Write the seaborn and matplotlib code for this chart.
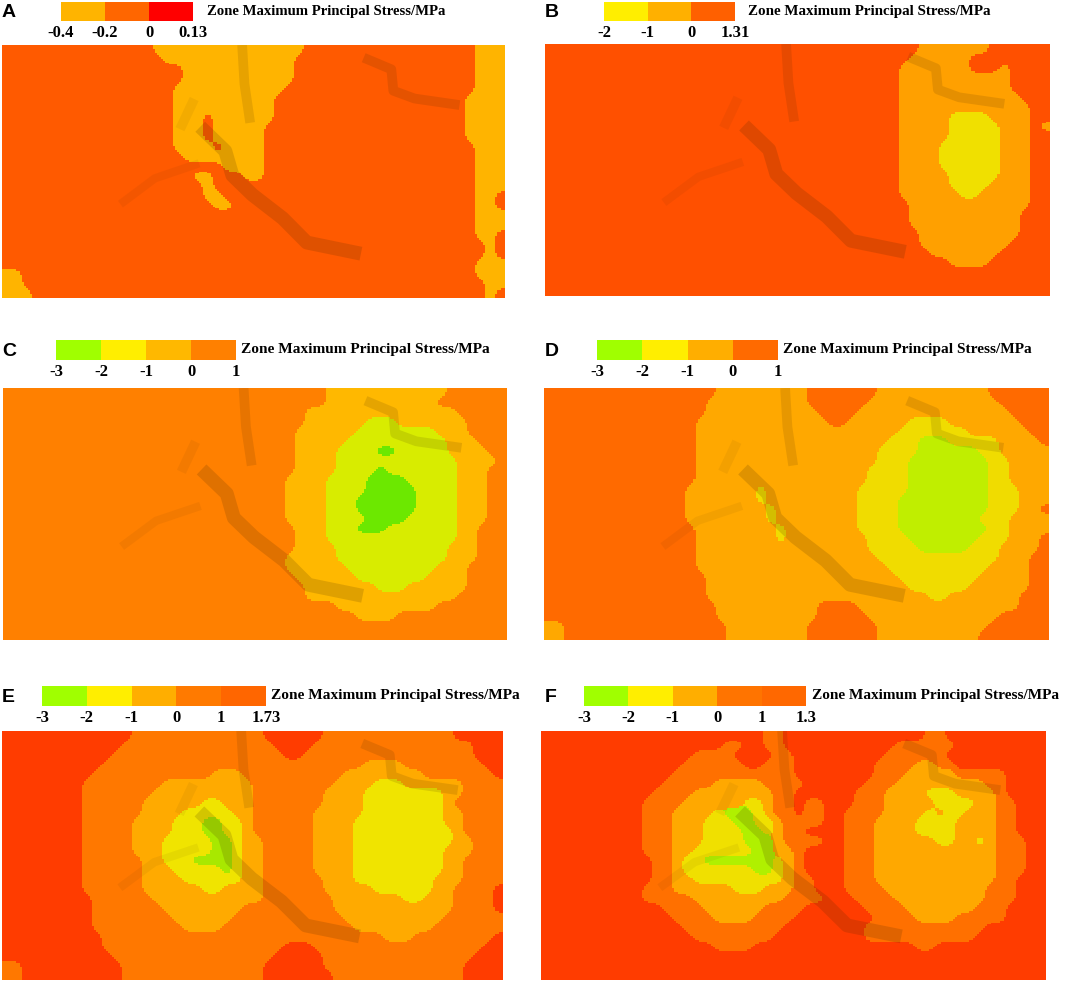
import numpy as np
import seaborn as sns
import matplotlib.pyplot as plt
from matplotlib.colors import ListedColormap

W, H = 1065, 982
TITLE = 'Zone Maximum Principal Stress/MPa'
UP = 5  # sub-cells per typed cell, only to round off the zone outlines

# zone index of each cell, rows top to bottom, grouped in tens
zones_a = [
    '0000000000 0000011111 1111111111 0000000000 0000000111',
    '0000000000 0000001111 1111111110 0000000000 0000000111',
    '0000000000 0000000011 1111111110 0000000000 0000000111',
    '0000000000 0000000011 1111111110 0000000000 0000000111',
    '0000000000 0000000111 1111111100 0000000000 0000000111',
    '0000000000 0000000111 1111111000 0000000000 0000001111',
    '0000000000 0000000111 1111111000 0000000000 0000001111',
    '0000000000 0000000111 0111111000 0000000000 0000001111',
    '0000000000 0000000111 0111110000 0000000000 0000001111',
    '0000000000 0000000111 0111110000 0000000000 0000001111',
    '0000000000 0000000111 1011110000 0000000000 0000000111',
    '0000000000 0000000011 1111110000 0000000000 0000000111',
    '0000000000 0000000000 0011110000 0000000000 0000000111',
    '0000000000 0000000001 1000110000 0000000000 0000000111',
    '0000000000 0000000000 1000000000 0000000000 0000000111',
    '0000000000 0000000000 1100000000 0000000000 0000000110',
    '0000000000 0000000000 0110000000 0000000000 0000000110',
    '0000000000 0000000000 0000000000 0000000000 0000000111',
    '0000000000 0000000000 0000000000 0000000000 0000000111',
    '0000000000 0000000000 0000000000 0000000000 0000000110',
    '0000000000 0000000000 0000000000 0000000000 0000000010',
    '0000000000 0000000000 0000000000 0000000000 0000000010',
    '0000000000 0000000000 0000000000 0000000000 0000000111',
    '1100000000 0000000000 0000000000 0000000000 0000000111',
    '1100000000 0000000000 0000000000 0000000000 0000000011',
    '1110000000 0000000000 0000000000 0000000000 0000000010',
]
zones_b = [
    '0000000000 0000000000 0000000000 0000000111 1111000000',
    '0000000000 0000000000 0000000000 0000001111 1100000000',
    '0000000000 0000000000 0000000000 0000011111 1100010000',
    '0000000000 0000000000 0000000000 0000011111 1111110000',
    '0000000000 0000000000 0000000000 0000011111 1111110000',
    '0000000000 0000000000 0000000000 0000011111 1111111000',
    '0000000000 0000000000 0000000000 0000011111 1111111100',
    '0000000000 0000000000 0000000000 0000011111 2222111100',
    '0000000000 0000000000 0000000000 0000011111 2222211101',
    '0000000000 0000000000 0000000000 0000011111 2222211100',
    '0000000000 0000000000 0000000000 0000011112 2222211100',
    '0000000000 0000000000 0000000000 0000011112 2222211100',
    '0000000000 0000000000 0000000000 0000011112 2222211100',
    '0000000000 0000000000 0000000000 0000011111 2222211100',
    '0000000000 0000000000 0000000000 0000011111 2222111100',
    '0000000000 0000000000 0000000000 0000011111 1221111100',
    '0000000000 0000000000 0000000000 0000001111 1111111100',
    '0000000000 0000000000 0000000000 0000001111 1111111000',
    '0000000000 0000000000 0000000000 0000001111 1111111000',
    '0000000000 0000000000 0000000000 0000000111 1111111000',
    '0000000000 0000000000 0000000000 0000000111 1111110000',
    '0000000000 0000000000 0000000000 0000000011 1111100000',
    '0000000000 0000000000 0000000000 0000000000 1111000000',
    '0000000000 0000000000 0000000000 0000000000 0000000000',
    '0000000000 0000000000 0000000000 0000000000 0000000000',
    '0000000000 0000000000 0000000000 0000000000 0000000000',
]
zones_c = [
    '0000000000 0000000000 0000000000 0011111111 1111000000',
    '0000000000 0000000000 0000000000 0011111111 1110000000',
    '0000000000 0000000000 0000000000 1111111111 1111100000',
    '0000000000 0000000000 0000000000 1111112221 1111110000',
    '0000000000 0000000000 0000000001 1111122222 2221110000',
    '0000000000 0000000000 0000000001 1111222222 2222111000',
    '0000000000 0000000000 0000000001 1112222332 2222111100',
    '0000000000 0000000000 0000000001 1112222222 2222211110',
    '0000000000 0000000000 0000000001 1112222322 2222211100',
    '0000000000 0000000000 0000000011 1122223333 2222211100',
    '0000000000 0000000000 0000000011 1122223333 3222211100',
    '0000000000 0000000000 0000000011 1122233333 3222211100',
    '0000000000 0000000000 0000000011 1122233333 3222211100',
    '0000000000 0000000000 0000000011 1122223333 2222211100',
    '0000000000 0000000000 0000000001 1122233322 2222211000',
    '0000000000 0000000000 0000000001 1122222222 2222211000',
    '0000000000 0000000000 0000000001 1112222222 2222111000',
    '0000000000 0000000000 0000000011 1112222222 2222111000',
    '0000000000 0000000000 0000000011 1111222222 2221110000',
    '0000000000 0000000000 0000000001 1111122222 2211110000',
    '0000000000 0000000000 0000000000 1111111222 1111110000',
    '0000000000 0000000000 0000000000 1111111111 1111100000',
    '0000000000 0000000000 0000000000 0001111111 1110000000',
    '0000000000 0000000000 0000000000 0000011110 0000000000',
    '0000000000 0000000000 0000000000 0000000000 0000000000',
    '0000000000 0000000000 0000000000 0000000000 0000000000',
]
zones_d = [
    '0000000000 0000000111 1111110000 0001111111 1111000000',
    '0000000000 0000001111 1111110000 0011111111 1111100000',
    '0000000000 0000001111 1111111000 0111111111 1111110000',
    '0000000000 0000011111 1111111100 1111112222 1111111000',
    '0000000000 0000011111 1111111111 1111122222 2211111100',
    '0000000000 0000011111 1111111111 1111222333 2222211110',
    '0000000000 0000011111 1111111111 1112222333 3332211111',
    '0000000000 0000011111 1111111111 1112223333 3333221111',
    '0000000000 0000011111 1111111111 1122223333 3333221111',
    '0000000000 0000011111 1111111111 1122223333 3333221111',
    '0000000000 0000111111 1211111111 1222223333 3333222111',
    '0000000000 0000111111 1211111111 1222233333 3333222111',
    '0000000000 0000111111 1121111111 1222233333 3333222110',
    '0000000000 0000111111 1121111111 1222233333 3332221111',
    '0000000000 0000011111 1112111111 1222233333 3333221111',
    '0000000000 0000011111 1112111111 1122223333 3332221110',
    '0000000000 0000011111 1111111111 1122222333 3322211110',
    '0000000000 0000011111 1111111111 1112222222 2222211100',
    '0000000000 0000011111 1111111111 1111222222 2222111100',
    '0000000000 0000001111 1111111111 1111122222 2221111100',
    '0000000000 0000001111 1111111111 1111112222 2211111100',
    '0000000000 0000001111 1111111111 1111111122 1111111000',
    '0000000000 0000000111 1111111000 0111111111 1111111000',
    '0000000000 0000000111 1111111000 0011111111 1111100000',
    '1100000000 0000000011 1111110000 0001111111 1111000000',
    '1100000000 0000000011 1111110000 0001111111 1110000000',
]
zones_e = [
    '0000000000 0001111111 1111110000 0011111111 1111100000',
    '0000000000 0011111111 1111111000 0111111111 1111111000',
    '0000000000 0111111111 1111111100 1111111111 1111111000',
    '0000000000 1111111111 1111111111 1111112222 1111111100',
    '0000000001 1111111111 1222111111 1111222222 2211111110',
    '0000000011 1111112222 2222211111 1112222333 2222221111',
    '0000000011 1111122222 2222211111 1122223333 3333221111',
    '0000000011 1111222222 3322211111 1122223333 3333211111',
    '0000000011 1111222233 3332211111 1222223333 3333221111',
    '0000000011 1112222333 4433211111 1222233333 3333221111',
    '0000000011 1112222333 4433211111 1222233333 3333321111',
    '0000000011 1112223333 3443221111 1222233333 3333322111',
    '0000000011 1112223333 3443221111 1222233333 3333222111',
    '0000000011 1111223334 4443221111 1222233333 3333221111',
    '0000000011 1111222333 3343221111 1222233333 3333221111',
    '0000000011 1111222233 3333221111 1122233333 3332221111',
    '0000000011 1111222222 3322221111 1122222333 3332211110',
    '0000000001 1111122222 2222221111 1112222222 3322211110',
    '0000000001 1111112222 2222111111 1112222222 2222211110',
    '0000000001 1111111222 2221111111 1111222222 2222111111',
    '0000000001 1111111122 2211111111 1111122222 2221111111',
    '0000000000 1111111111 1111111111 1111111122 2111111110',
    '0000000000 1111111111 1111111100 0111111111 1111111100',
    '0000000000 0111111111 1111111000 0011111111 1111111000',
    '1100000000 0011111111 1111110000 0011111111 1111110000',
    '1100000000 0011111111 1111110000 0001111111 1111110000',
]
zones_f = [
    '0000000000 0000000000 0011000000 0000000011 0000000000',
    '0000000000 0000000011 0011000000 0000011111 1000000000',
    '0000000000 0000011110 0001100000 0000111111 0000000000',
    '0000000000 0000111111 0011100000 0001111221 1000000000',
    '0000000000 0001111111 1111100000 0001112222 2111110000',
    '0000000000 0011111222 2211110000 0011122222 2222110000',
    '0000000000 0111122222 2221100000 0111222233 3222210000',
    '0000000000 1111222222 3321101100 0111222223 3332211000',
    '0000000000 1112222344 4321101100 1111222232 3322211000',
    '0000000000 1112223334 4332111100 1112222333 3222211000',
    '0000000000 1112223333 4432110000 1112222333 3222211000',
    '0000000000 1112223333 4442111100 1112222223 3223211100',
    '0000000000 1112233333 3442210000 1112222222 2222211100',
    '0000000000 0112334444 4443210000 1112222222 2222211100',
    '0000000000 0112333333 3443210000 1112222222 2222211100',
    '0000000000 0112233333 3333211000 1112222222 2222211000',
    '0000000000 1112222223 3322211000 1111222222 2222111000',
    '0000000000 1111122222 2222111100 0111122222 2222111000',
    '0000000000 0011112222 2211110000 0011112222 2221110000',
    '0000000000 0001111222 2111100000 0001111222 2111110000',
    '0000000000 0000111111 1111000000 0011111111 1111000000',
    '0000000000 0000011111 1110000000 0011111111 1110000000',
    '0000000000 0000000111 1000000000 0000000110 0000000000',
    '0000000000 0000000000 0000000000 0000000000 0000000000',
    '0000000000 0000000000 0000000000 0000000000 0000000000',
    '0000000000 0000000000 0000000000 0000000000 0000000000',
]

# colours of the field, one per zone
field_a = ['#FF5A00', '#FFB400']
field_b = ['#FF5000', '#FFA000', '#F0E000']
field_c = ['#FF8000', '#FFB800', '#D8EC00', '#6CE800']
field_d = ['#FF6A00', '#FFA800', '#F0DC00', '#C0EE00']
field_e = ['#FF3C00', '#FF7800', '#FFAA00', '#F0E400', '#A8E800']
field_f = ['#FF3C00', '#FF7000', '#FFA800', '#F0E000', '#B0F000']

# colour key of each panel
key_a = ['#FFB400', '#FF6600', '#FF0000']
key_b = ['#FFEE00', '#FFB000', '#FF6000']
key_c = ['#A0FF00', '#FFEE00', '#FFB800', '#FF8000']
key_d = ['#A0FF00', '#FFEE00', '#FFAE00', '#FF6A00']
key_e = ['#A0FF00', '#FFEE00', '#FFAE00', '#FF7A00', '#FF6600']
key_f = ['#A0FF00', '#FFEE00', '#FFAE00', '#FF7400', '#FF6800']

ticks_a = ['-0.4', '-0.2', '0', '0.13']
ticks_b = ['-2', '-1', '0', '1.31']
ticks_c = ['-3', '-2', '-1', '0', '1']
ticks_d = ['-3', '-2', '-1', '0', '1']
ticks_e = ['-3', '-2', '-1', '0', '1', '1.73']
ticks_f = ['-3', '-2', '-1', '0', '1', '1.3']

# fold lines of the surface, in cell units
main_x = [20.2, 22.2, 22.9, 24.9, 27.9, 30.3, 35.0]
main_y = [8.9, 10.9, 13.4, 15.4, 17.8, 20.3, 21.3]
upper_x = [23.9, 24.1, 24.6]
upper_y = [0.5, 4.0, 7.5]
right_x = [36.4, 38.7, 38.9, 41.0, 45.0]
right_y = [1.5, 2.5, 4.7, 5.5, 6.1]
branch_x = [12.1, 15.2, 19.2]
branch_y = [16.1, 13.7, 12.3]
short_x = [18.9, 17.9]
short_y = [6.0, 8.2]

folds = [(main_x, main_y, 10, 0.16), (upper_x, upper_y, 7, 0.12), (right_x, right_y, 7, 0.13),
         (branch_x, branch_y, 6, 0.06), (short_x, short_y, 7, 0.06)]

panels = [
    ('A', zones_a, field_a, key_a, ticks_a, (2, 45, 505, 298), (61, 2, 193, 21), 207, 2, 10.6),
    ('B', zones_b, field_b, key_b, ticks_b, (545, 44, 1050, 296), (604, 2, 735, 21), 748, 545, 10.8),
    ('C', zones_c, field_c, key_c, ticks_c, (3, 388, 507, 640), (56, 340, 236, 360), 241, 2, 11.1),
    ('D', zones_d, field_d, key_d, ticks_d, (544, 388, 1049, 640), (597, 340, 778, 360), 783, 545, 11.1),
    ('E', zones_e, field_e, key_e, ticks_e, (2, 731, 503, 980), (42, 686, 266, 706), 271, 2, 11.1),
    ('F', zones_f, field_f, key_f, ticks_f, (541, 731, 1046, 980), (584, 686, 806, 706), 812, 545, 11.0),
]


def px_axes(fig, box):
    x0, y0, x1, y1 = box
    return fig.add_axes([x0 / W, 1 - y1 / H, (x1 - x0) / W, (y1 - y0) / H])


def round_zones(rows, n):
    # same zones, finer cells, so the outlines are not stair steps
    grid = np.array([[int(c) for c in r.replace(' ', '')] for r in rows])
    fine = np.kron(grid, np.ones((UP, UP), dtype=int))
    kernel = np.ones(UP + 2) / (UP + 2)
    weights = []
    for z in range(n):
        w = np.pad((fine == z).astype(float), UP, mode='edge')
        w = np.apply_along_axis(np.convolve, 0, w, kernel, mode='same')
        w = np.apply_along_axis(np.convolve, 1, w, kernel, mode='same')
        weights.append(w[UP:-UP, UP:-UP])
    return np.argmax(weights, axis=0)


def draw_field(ax, rows, colors):
    grid = round_zones(rows, len(colors))
    sns.heatmap(grid, ax=ax, cmap=ListedColormap(colors), vmin=-0.5, vmax=len(colors) - 0.5,
                cbar=False, xticklabels=False, yticklabels=False)
    xlim, ylim = ax.get_xlim(), ax.get_ylim()
    for fx, fy, lw, alpha in folds:
        sns.lineplot(x=np.array(fx) * UP, y=np.array(fy) * UP, sort=False, estimator=None, ax=ax,
                     color='#3c2400', linewidth=lw, alpha=alpha, legend=False)
    ax.set_xlim(xlim)
    ax.set_ylim(ylim)
    ax.set_axis_off()


def draw_key(ax, colors, labels):
    n = len(colors)
    sns.heatmap([list(range(n))], ax=ax, cmap=ListedColormap(colors), vmin=-0.5, vmax=n - 0.5,
                cbar=False, yticklabels=False)
    ax.set_xticks(range(n + 1))
    ax.set_xticklabels(labels[:n + 1], rotation=0, fontsize=12, fontweight='bold',
                       family='Liberation Serif')
    ax.tick_params(axis='x', length=0, pad=3)
    ax.set_yticks([])


fig = plt.figure(figsize=(W / 100, H / 100), dpi=100)

for letter, rows, field, key, ticks, box, key_box, title_x, letter_x, title_size in panels:
    draw_field(px_axes(fig, box), rows, field)
    draw_key(px_axes(fig, key_box), key, ticks)
    mid_y = (key_box[1] + key_box[3]) / 2
    fig.text(title_x / W, 1 - mid_y / H, TITLE, ha='left', va='center', fontsize=title_size,
             fontweight='bold', family='Liberation Serif')
    fig.text(letter_x / W, 1 - (mid_y + 1) / H, letter, ha='left', va='center', fontsize=14,
             fontweight='bold', family='Liberation Sans')

fig.savefig('out.png', dpi=100)
